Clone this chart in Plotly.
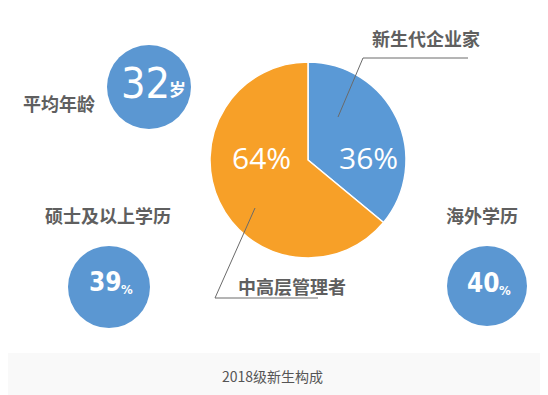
import plotly.graph_objects as go

W, H = 548, 395
OFF = 8  # page body margin compensation

# ---- data ----
pie_labels = ["新生代企业家", "中高层管理者"]
pie_values = [36, 64]
pie_colors = ["#5a99d6", "#f7a028"]

stat_labels = ["平均年龄", "硕士及以上学历", "海外学历"]
stat_values = [32, 39, 40]
stat_units = ["岁", "%", "%"]

caption = "2018级新生构成"

# ---- layout constants (pixels) ----
pie_cx, pie_cy, pie_r = 308, 160, 98
circles = [(149, 87, 42), (109, 287, 41), (487, 286, 40)]
label_pos = [(59, 103), (108, 215), (482, 215)]
num_pos = [(172, 83), (124, 282), (502, 283)]
num_font = [43, 26, 26]
unit_pos = [(167, 88), (119, 289), (497, 290)]
unit_font = [17, 13, 13]

CJK = "Noto Sans CJK SC"
NARROW = "DejaVu Sans Condensed, DejaVu Sans"
GRAY = "#5f5f5f"
CIRCLE = "#5b97d2"

fig = go.Figure()

fig.add_trace(go.Pie(
    labels=pie_labels, values=pie_values, sort=False, direction="clockwise",
    rotation=0, marker=dict(colors=pie_colors, line=dict(color="white", width=1.5)),
    textinfo="none", hoverinfo="label+percent", showlegend=False,
    domain=dict(x=[(pie_cx - OFF - pie_r) / W, (pie_cx - OFF + pie_r) / W],
                y=[(H - (pie_cy - OFF) - pie_r) / H, (H - (pie_cy - OFF) + pie_r) / H]),
))

# invisible trace to activate the pixel axes
fig.add_trace(go.Scatter(x=[OFF, OFF + W], y=[OFF, OFF + H], mode="markers",
                         marker=dict(opacity=0), hoverinfo="skip", showlegend=False))

shapes = []
shapes.append(dict(type="rect", x0=0, x1=W + OFF, y0=353, y1=H + OFF, fillcolor="#f9f9f9",
                   line=dict(width=0), layer="below"))
for (cx, cy, r) in circles:
    shapes.append(dict(type="circle", x0=cx - r, x1=cx + r, y0=cy - r, y1=cy + r,
                       fillcolor=CIRCLE, line=dict(width=0)))
shapes.append(dict(type="path", path="M 338 117 L 363 58 L 468 58",
                   line=dict(color="#6a6a6a", width=1)))
shapes.append(dict(type="path", path="M 255 208 L 215 298 L 318 298",
                   line=dict(color="#6a6a6a", width=1)))

ann = []
total = sum(pie_values)
pct_pos = [(368, 157), (261, 157)]
for v, (px, py) in zip(pie_values, pct_pos):
    ann.append(dict(x=px, y=py, text=f"{round(v / total * 100)}%", showarrow=False,
                    font=dict(family="Open Sans", size=30, color="white")))
ann.append(dict(x=426, y=38, text=pie_labels[0], showarrow=False,
                font=dict(family=CJK, size=18, color=GRAY, weight=700)))
ann.append(dict(x=292, y=286, text=pie_labels[1], showarrow=False,
                font=dict(family=CJK, size=18, color=GRAY, weight=700)))

for i, (lab, val, unit) in enumerate(zip(stat_labels, stat_values, stat_units)):
    lx, ly = label_pos[i]
    ann.append(dict(x=lx, y=ly, text=lab, showarrow=False,
                    font=dict(family=CJK, size=18, color=GRAY, weight=700)))
    nx, ny = num_pos[i]
    ann.append(dict(x=nx, y=ny, text=str(val), showarrow=False, xanchor="right",
                    font=dict(family=NARROW, size=num_font[i], color="white",
                              weight=400 if i == 0 else 700)))
    ux, uy = unit_pos[i]
    ann.append(dict(x=ux, y=uy, text=unit, showarrow=False, xanchor="left",
                    font=dict(family=CJK if i == 0 else NARROW, size=unit_font[i],
                              color="white", weight=700)))

ann.append(dict(x=272, y=376, text=caption, showarrow=False,
                font=dict(family=CJK, size=14, color="#555555")))

fig.update_layout(
    width=W, height=H, margin=dict(l=0, r=0, t=0, b=0),
    paper_bgcolor="white", plot_bgcolor="rgba(0,0,0,0)",
    xaxis=dict(range=[OFF, OFF + W], visible=False, fixedrange=True),
    yaxis=dict(range=[OFF + H, OFF], visible=False, fixedrange=True),
    shapes=shapes, annotations=ann,
)

fig.write_html("out.html", config={"displayModeBar": False})
